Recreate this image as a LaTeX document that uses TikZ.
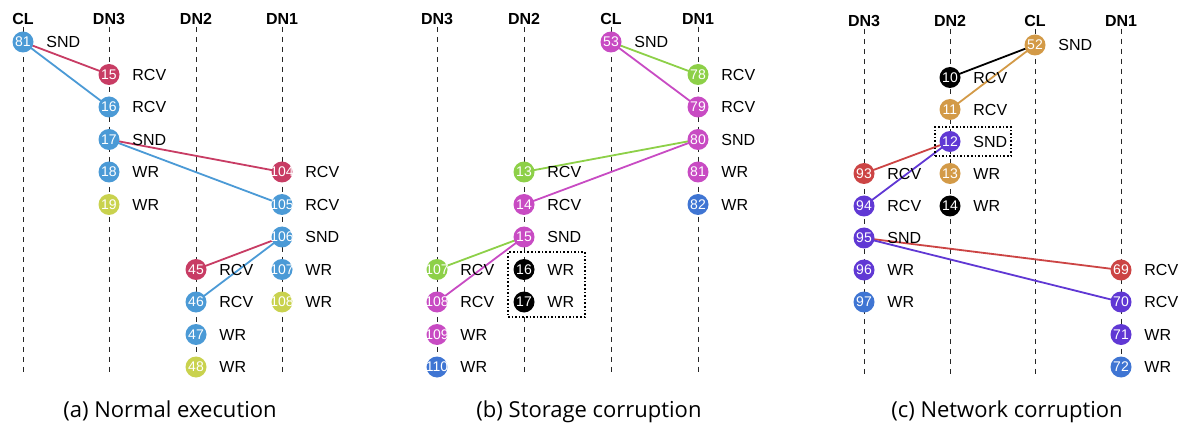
\documentclass[tikz,border=0pt]{standalone}
\usepackage{fontspec}
\setmainfont{Liberation Sans}
\newfontfamily\capfont{Open Sans}
\usetikzlibrary{backgrounds}
\pgfdeclarelayer{bottom}
\pgfsetlayers{bottom,background,main}
\definecolor{cBlue}{HTML}{4B9AD6}
\definecolor{cRed}{HTML}{C83C64}
\definecolor{cYel}{HTML}{C9D24E}
\definecolor{cMag}{HTML}{C84BC3}
\definecolor{cGrn}{HTML}{8DD048}
\definecolor{cBlu}{HTML}{3F75D3}
\definecolor{cBrn}{HTML}{D39A47}
\definecolor{cRd}{HTML}{CC4444}
\definecolor{cPur}{HTML}{6038D4}
\newcommand\evt[6]{\node[evc=#4] (#1) at (#2,#3) {\makebox[0pt]{#5}};
  \node[lbl] (#1l) at ([xshift=12.5pt]#1.east) {#6};}
\newcommand\lane[4]{\node[hdr] (#1) at (#2,#3) {#4};
  \coordinate (#1e) at (#2,375);
  \begin{pgfonlayer}{background}\draw[life] (#1.south) -- (#1e);\end{pgfonlayer}}
\begin{document}
\begin{tikzpicture}[x=1pt,y=-1pt,
  evc/.style={circle, fill=#1, minimum size=21pt, inner sep=0pt, text=white, font=\fontsize{14}{14}\selectfont},
  lbl/.style={anchor=west, inner sep=0pt, font=\fontsize{16}{16}\selectfont},
  hdr/.style={inner sep=2pt, font=\bfseries\fontsize{16}{16}\selectfont},
  life/.style={line width=0.9pt, dash pattern=on 5.5pt off 4.5pt, black!85},
  msg/.style={line width=1.8pt, draw=#1},
  selbox/.style={draw, dotted, line width=1.6pt},
  captxt/.style={font=\capfont\fontsize{22}{22}\selectfont}]
\begin{pgfonlayer}{bottom}
\fill[white] (0,0) rectangle (1185,430);
\end{pgfonlayer}
\useasboundingbox (0,0) rectangle (1185,430);
% ---------------- (a)
\lane{aCL}{23}{19}{CL}
\lane{aD3}{109}{19}{DN3}
\lane{aD2}{196}{19}{DN2}
\lane{aD1}{282}{19}{DN1}
\evt{a81}{23}{42}{cBlue}{81}{SND}
\evt{a15}{109}{74.5}{cRed}{15}{RCV}
\evt{a16}{109}{107}{cBlue}{16}{RCV}
\evt{a17}{109}{139.5}{cBlue}{17}{SND}
\evt{a18}{109}{172}{cBlue}{18}{WR}
\evt{a19}{109}{204.5}{cYel}{19}{WR}
\evt{a104}{282}{172}{cRed}{104}{RCV}
\evt{a105}{282}{204.5}{cBlue}{105}{RCV}
\evt{a106}{282}{237}{cBlue}{106}{SND}
\evt{a107}{282}{269.5}{cBlue}{107}{WR}
\evt{a108}{282}{302}{cYel}{108}{WR}
\evt{a45}{196}{269.5}{cRed}{45}{RCV}
\evt{a46}{196}{302}{cBlue}{46}{RCV}
\evt{a47}{196}{334.5}{cBlue}{47}{WR}
\evt{a48}{196}{367}{cYel}{48}{WR}
\begin{pgfonlayer}{background}
\draw[msg=cRed] (a81.center) -- (a15.center);
\draw[msg=cBlue] (a81.center) -- (a16.center);
\draw[msg=cRed] (a17.center) -- (a104.center);
\draw[msg=cBlue] (a17.center) -- (a105.center);
\draw[msg=cRed] (a106.center) -- (a45.center);
\draw[msg=cBlue] (a106.center) -- (a46.center);
\end{pgfonlayer}
\node[captxt] (capa) at (170,411) {(a) Normal execution};
% ---------------- (b)
\lane{bD3}{437}{19}{DN3}
\lane{bD2}{524}{19}{DN2}
\lane{bCL}{611}{19}{CL}
\lane{bD1}{698}{19}{DN1}
\evt{b53}{611}{42}{cMag}{53}{SND}
\evt{b78}{698}{74.5}{cGrn}{78}{RCV}
\evt{b79}{698}{107}{cMag}{79}{RCV}
\evt{b80}{698}{139.5}{cMag}{80}{SND}
\evt{b81}{698}{172}{cMag}{81}{WR}
\evt{b82}{698}{204.5}{cBlu}{82}{WR}
\evt{b13}{524}{172}{cGrn}{13}{RCV}
\evt{b14}{524}{204.5}{cMag}{14}{RCV}
\evt{b15}{524}{237}{cMag}{15}{SND}
\evt{b16}{524}{269.5}{black}{16}{WR}
\evt{b17}{524}{302}{black}{17}{WR}
\evt{b107}{437}{269.5}{cGrn}{107}{RCV}
\evt{b108}{437}{302}{cMag}{108}{RCV}
\evt{b109}{437}{334.5}{cMag}{109}{WR}
\evt{b110}{437}{367}{cBlu}{110}{WR}
\begin{pgfonlayer}{background}
\draw[msg=cGrn] (b53.center) -- (b78.center);
\draw[msg=cMag] (b53.center) -- (b79.center);
\draw[msg=cGrn] (b80.center) -- (b13.center);
\draw[msg=cMag] (b80.center) -- (b14.center);
\draw[msg=cGrn] (b15.center) -- (b107.center);
\draw[msg=cMag] (b15.center) -- (b108.center);
\end{pgfonlayer}
\node[selbox, minimum width=77pt, minimum height=65pt] (bbox) at (546.5,284.5) {};
\node[captxt] (capb) at (589,412) {(b) Storage corruption};
% ---------------- (c)
\lane{cD3}{864}{21}{DN3}
\lane{cD2}{950}{21}{DN2}
\lane{cCL}{1035}{21}{CL}
\lane{cD1}{1121}{21}{DN1}
\evt{c52}{1035}{45}{cBrn}{52}{SND}
\evt{c10}{950}{77.5}{black}{10}{RCV}
\evt{c11}{950}{109.5}{cBrn}{11}{RCV}
\evt{c12}{950}{141.5}{cPur}{12}{SND}
\evt{c13}{950}{173.5}{cBrn}{13}{WR}
\evt{c14}{950}{206}{black}{14}{WR}
\evt{c93}{864}{173.5}{cRd}{93}{RCV}
\evt{c94}{864}{206}{cPur}{94}{RCV}
\evt{c95}{864}{238}{cPur}{95}{SND}
\evt{c96}{864}{270}{cPur}{96}{WR}
\evt{c97}{864}{302}{cBlu}{97}{WR}
\evt{c69}{1121}{270}{cRd}{69}{RCV}
\evt{c70}{1121}{302}{cPur}{70}{RCV}
\evt{c71}{1121}{334.5}{cPur}{71}{WR}
\evt{c72}{1121}{367}{cBlu}{72}{WR}
\begin{pgfonlayer}{background}
\draw[msg=black] (c52.center) -- (c10.center);
\draw[msg=cBrn] (c52.center) -- (c11.center);
\draw[msg=cRd] (c12.center) -- (c93.center);
\draw[msg=cPur] (c12.center) -- (c94.center);
\draw[msg=cRd] (c95.center) -- (c69.center);
\draw[msg=cPur] (c95.center) -- (c70.center);
\end{pgfonlayer}
\node[selbox, minimum width=76pt, minimum height=29pt] (cbox) at (973,141.5) {};
\node[captxt] (capc) at (1007,412) {(c) Network corruption};
\end{tikzpicture}
\end{document}
